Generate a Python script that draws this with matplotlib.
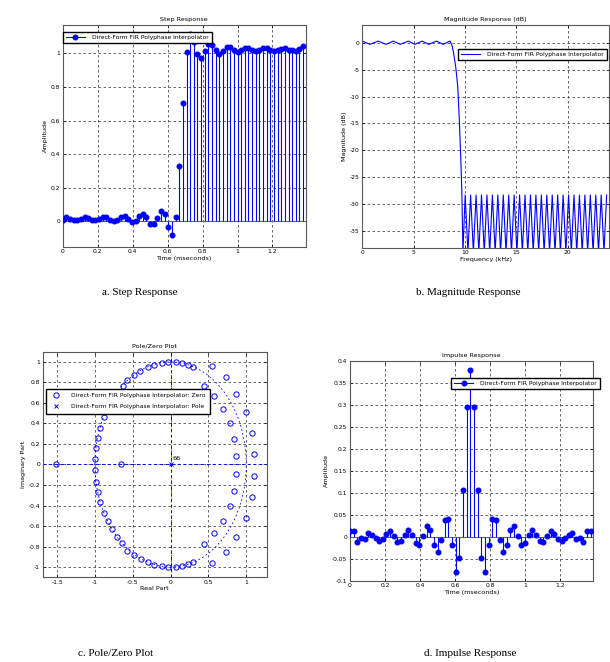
import numpy as np
import matplotlib
matplotlib.use('Agg')
import matplotlib.pyplot as plt
from matplotlib.lines import Line2D
from matplotlib.patches import Circle
from matplotlib.ticker import FuncFormatter

# ---- data ----
sample_ms = 1 / 48.0  # 48 kHz output rate

impulse = [0.014, 0.014, -0.011, -0.002, -0.006, 0.008, 0.005, -0.004, -0.009, -0.006,
           0.007, 0.012, 0.002, -0.012, -0.010, 0.004, 0.015, 0.005, -0.015, -0.019,
           0.002, 0.024, 0.015, -0.018, -0.034, -0.008, 0.038, 0.040, -0.019, -0.080,
           -0.048, 0.107, 0.295, 0.380, 0.295, 0.107, -0.048, -0.080, -0.019, 0.040,
           0.038, -0.008, -0.034, -0.018, 0.015, 0.024, 0.002, -0.019, -0.015, 0.005,
           0.015, 0.004, -0.010, -0.012, 0.002, 0.012, 0.007, -0.006, -0.009, -0.004,
           0.005, 0.008, -0.006, -0.002, -0.011, 0.014, 0.014]

step = [0.010, 0.026, 0.014, 0.010, 0.010, 0.014, 0.024, 0.020, 0.010, 0.006,
        0.014, 0.026, 0.024, 0.010, 0.000, 0.006, 0.026, 0.034, 0.016, -0.004,
        0.004, 0.034, 0.046, 0.026, -0.014, -0.018, 0.022, 0.064, 0.046, -0.032,
        -0.082, 0.026, 0.330, 0.706, 1.010, 1.114, 1.070, 0.994, 0.974, 1.014,
        1.054, 1.050, 1.018, 0.994, 1.014, 1.038, 1.040, 1.018, 1.006, 1.018,
        1.034, 1.030, 1.018, 1.014, 1.022, 1.030, 1.030, 1.018, 1.014, 1.022,
        1.026, 1.030, 1.022, 1.018, 1.014, 1.026, 1.046]

# magnitude response (kHz, dB)
pass_f = [0, 0.37, 0.75, 1.15, 1.56, 1.93, 2.3, 2.66, 3.02, 3.36, 3.7, 4.09, 4.48, 4.8,
          5.13, 5.48, 5.84, 6.15, 6.46, 6.85, 7.24, 7.56, 7.88, 8.21, 8.54, 8.75, 8.9,
          9.1, 9.3, 9.45, 9.6, 9.7]
pass_db = [0.3, 0.0, -0.3, 0.0, 0.3, 0.0, -0.3, 0.0, 0.3, 0.0, -0.3, 0.0, 0.3, 0.0,
           -0.3, 0.0, 0.3, 0.0, -0.3, 0.0, 0.3, 0.0, -0.3, 0.0, 0.3, -0.6, -2.0,
           -4.5, -8.2, -14.4, -21.9, -28.0]
null_f = [9.8, 10.29, 10.82, 11.35, 11.88, 12.41, 12.94, 13.47, 14.0, 14.53, 15.06,
          15.59, 16.12, 16.65, 17.18, 17.71, 18.24, 18.77, 19.3, 19.83, 20.36, 20.89,
          21.42, 21.95, 22.48, 23.01, 23.54]
null_db = [-39] * len(null_f)
peak_f = [10.02, 10.55, 11.08, 11.61, 12.14, 12.67, 13.2, 13.73, 14.26, 14.79, 15.32,
          15.85, 16.38, 16.91, 17.44, 17.97, 18.5, 19.03, 19.56, 20.09, 20.62, 21.15,
          21.68, 22.21, 22.74, 23.27, 23.8]
peak_db = [-28.3] * len(peak_f)

# zeros of the filter
zeros_re = [0.295, 0.23, 0.15, 0.07, -0.03, -0.11, -0.22, -0.30, -0.40, -0.48, -0.57, -0.63,
            -0.71, -0.78, -0.83, -0.88, -0.93, -0.96, -0.985, -0.995,
            -0.995, -0.99, -0.96, -0.93, -0.88, -0.83, -0.78, -0.71, -0.64, -0.57, -0.48,
            -0.39, -0.30, -0.22, -0.12, -0.03, 0.07, 0.15, 0.23, 0.295,
            0.445, 0.55, 0.57, 0.73, 0.69, 0.87, 0.78, 1.0, 0.84, 1.07, 0.87, 1.1,
            0.87, 1.1, 0.84, 1.07, 0.78, 1.0, 0.69, 0.87, 0.57, 0.73, 0.445, 0.55,
            -1.52, -0.66]
zeros_im = [0.955, 0.97, 0.985, 1.0, 1.0, 0.99, 0.975, 0.95, 0.915, 0.875, 0.82, 0.77,
            0.71, 0.63, 0.55, 0.46, 0.36, 0.26, 0.165, 0.055,
            -0.055, -0.17, -0.27, -0.365, -0.47, -0.55, -0.63, -0.71, -0.77, -0.84, -0.885,
            -0.925, -0.95, -0.98, -0.99, -1.0, -1.0, -0.99, -0.975, -0.95,
            0.77, 0.96, 0.67, 0.85, 0.54, 0.69, 0.40, 0.515, 0.245, 0.31, 0.08, 0.105,
            -0.088, -0.11, -0.26, -0.32, -0.40, -0.52, -0.55, -0.71, -0.67, -0.85, -0.78, -0.96,
            0.0, 0.0]
n_poles = 66

label = 'Direct-Form FIR Polyphase Interpolator'
blue = '#0000ff'

W, H = 610, 662


def box(l, t, r, b):
    return [l / W, 1 - b / H, (r - l) / W, (b - t) / H]


def fmt(v, p):
    return f'{round(v, 2) + 0.0:g}'


def style(ax, title, xlabel, ylabel):
    ax.set_title(title, fontsize=4.6, pad=3)
    ax.set_xlabel(xlabel, fontsize=4.6, labelpad=1)
    ax.set_ylabel(ylabel, fontsize=4.6, labelpad=2)
    ax.grid(True, color='0.3', linestyle=(0, (3, 3)), linewidth=0.6)
    ax.set_axisbelow(True)
    ax.tick_params(labelsize=4.3, direction='in', length=2, width=0.5,
                   top=True, right=True, pad=2)
    for s in ax.spines.values():
        s.set_color('0.35')
        s.set_linewidth(0.8)
    ax.xaxis.set_major_formatter(FuncFormatter(fmt))
    ax.yaxis.set_major_formatter(FuncFormatter(fmt))


def stem_plot(ax, y):
    t = np.arange(len(y)) * sample_ms
    ax.vlines(t, 0, y, color=blue, linewidth=0.8, zorder=3)
    ax.axhline(0, color='0.4', linewidth=0.8, zorder=2)
    ax.plot(t, y, 'o', color=blue, markersize=3.3, zorder=4)


def legend_kw():
    return dict(fontsize=4.3, fancybox=False, edgecolor='black', framealpha=1,
                borderaxespad=0, borderpad=0.5, handlelength=3.2, handletextpad=1.2)


fig = plt.figure(figsize=(W / 100, H / 100), dpi=100)

# a. step response
ax = fig.add_axes(box(62.7, 24.7, 305.7, 246.7))
stem_plot(ax, step)
ax.set_xlim(0, 1.39)
ax.set_ylim(-0.15, 1.17)
ax.set_xticks(np.arange(0, 1.21, 0.2))
ax.set_yticks(np.arange(0, 1.01, 0.2))
style(ax, 'Step Response', 'Time (mseconds)', 'Amplitude')
h = Line2D([], [], color=blue, marker='o', markersize=3.3, linewidth=0.8)
ax.legend([h], [label], loc='upper left', bbox_to_anchor=(0, 0.968),
          numpoints=1, **legend_kw())

# b. magnitude response
ax = fig.add_axes(box(362.3, 24.7, 608.7, 247.7))
stop_f = np.column_stack([null_f, peak_f]).ravel()
stop_db = np.column_stack([null_db, peak_db]).ravel()
ax.plot(np.r_[pass_f, stop_f], np.r_[pass_db, stop_db], color=blue, linewidth=0.8)
ax.set_xlim(0, 24)
ax.set_ylim(-38.1, 3.35)
ax.set_xticks([0, 5, 10, 15, 20])
ax.set_yticks(np.arange(-35, 1, 5))
style(ax, 'Magnitude Response (dB)', 'Frequency (kHz)', 'Magnitude (dB)')
ax.legend([Line2D([], [], color=blue, linewidth=0.8)], [label], loc='upper right',
          bbox_to_anchor=(0.994, 0.89), **legend_kw())

# c. pole/zero plot
ax = fig.add_axes(box(42.7, 351.7, 266.7, 577.3))
ax.axhline(0, color=blue, linestyle=(0, (3, 3)), linewidth=0.7)
ax.axvline(0, color=blue, linestyle=(0, (3, 3)), linewidth=0.7)
ax.add_patch(Circle((0, 0), 1, fill=False, edgecolor=blue, linestyle=(0, (2, 3)),
                    linewidth=0.6))
zh, = ax.plot(zeros_re, zeros_im, 'o', markersize=3.8, markerfacecolor='none',
              markeredgecolor=blue, markeredgewidth=0.7, linestyle='none')
ph, = ax.plot([0], [0], 'x', markersize=3.5, color=blue, markeredgewidth=0.7,
              linestyle='none')
ax.text(0.03, 0.03, str(n_poles), fontsize=4.6, va='bottom', ha='left')
ax.set_xlim(-1.69, 1.27)
ax.set_ylim(-1.1, 1.1)
ax.set_xticks([-1.5, -1, -0.5, 0, 0.5, 1])
ax.set_yticks(np.arange(-1, 1.01, 0.2))
style(ax, 'Pole/Zero Plot', 'Real Part', 'Imaginary Part')
ax.legend([zh, ph], [label + ': Zero', label + ': Pole'], loc='upper left',
          bbox_to_anchor=(0.015, 0.835), fontsize=4.3, fancybox=False,
          edgecolor='black', framealpha=1, borderaxespad=0, borderpad=0.7,
          handlelength=2.0, handletextpad=1.5, labelspacing=1.0)

# d. impulse response
ax = fig.add_axes(box(350, 360.7, 593.3, 580.7))
stem_plot(ax, impulse)
ax.set_xlim(0, 1.39)
ax.set_ylim(-0.1, 0.4)
ax.set_xticks(np.arange(0, 1.21, 0.2))
ax.set_yticks(np.arange(-0.1, 0.401, 0.05))
style(ax, 'Impulse Response', 'Time (mseconds)', 'Amplitude')
ax.legend([h], [label], loc='upper right', bbox_to_anchor=(1.028, 0.921),
          numpoints=1, **legend_kw())

# captions
cap = dict(fontsize=8, family='Liberation Serif', ha='center', va='center')
fig.text(140 / W, 1 - 293 / H, 'a. Step Response', **cap)
fig.text(468 / W, 1 - 293 / H, 'b. Magnitude Response', **cap)
fig.text(116 / W, 1 - 654 / H, 'c. Pole/Zero Plot', **cap)
fig.text(470 / W, 1 - 654 / H, 'd. Impulse Response', **cap)

fig.savefig('out.png', dpi=100)
